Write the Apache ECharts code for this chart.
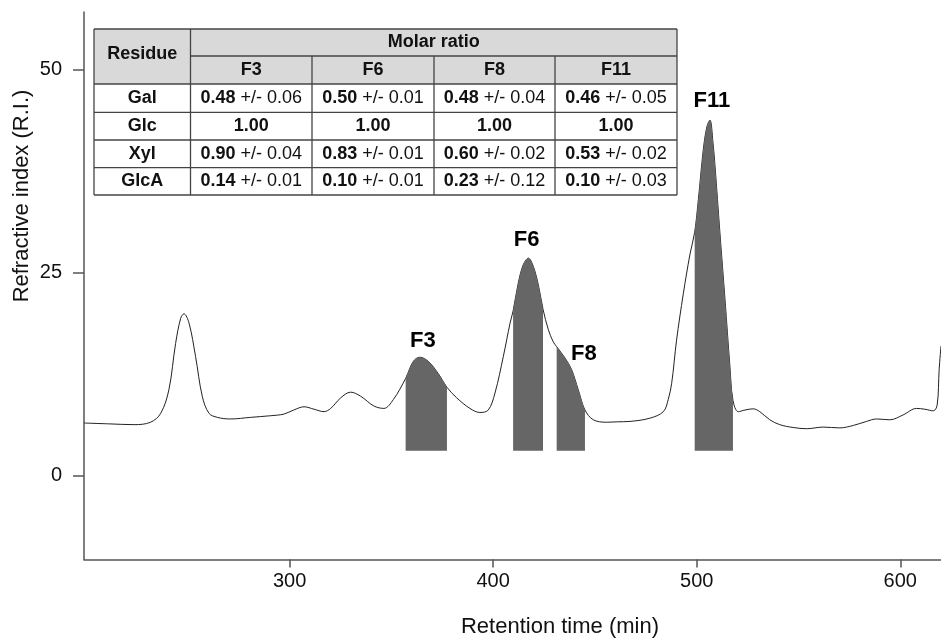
<!DOCTYPE html>
<html>
<head>
<meta charset="utf-8">
<script src="https://cdn.jsdelivr.net/npm/echarts@6/dist/echarts.min.js"></script>
<style>
  html, body { margin: 0; padding: 0; background: #fff; }
  #chart { width: 941px; height: 640px; }
</style>
</head>
<body>
<div id="chart"></div>
<script>
// chromatogram trace
var retention = [199, 211, 223.6, 231.7, 236.7, 240.7, 244.0, 246.5, 248.1, 250.6, 253.8, 257.1, 260.4, 264.5,
  271.0, 280.9, 290.7, 297.2, 302, 307.1, 312.0, 316.9, 320.2, 325.1, 330.0, 334.9, 341.4, 346.3, 351.0,
  357.0, 360.8, 364.0, 368.1, 373.0, 377.3, 382.1, 388.6, 393.5, 397.6, 400.9, 405.0, 408.3,
  409.8, 412.3, 414.8, 417.3, 419.7, 422.2, 424.5, 427.1, 429.5, 431.2, 435.3, 438.5, 441.8, 445.1,
  449.2, 455.7, 461, 467.2, 477.0, 483.6, 486.0, 487.7, 490.1, 493.4, 496.7, 499.0, 500.8, 503.2,
  505.0, 506.5, 508.0, 509.0, 511.4, 513.9, 516.3, 517.8, 520.4, 523.7, 527.7, 531.0, 535.9, 540.8,
  547.4, 554.0, 562.1, 570.3, 576.9, 583.4, 588.3, 594.9, 601.4, 608.0, 612.1, 616.2, 618.1, 619.1, 620];
var signal = [6.5, 6.4, 6.3, 6.6, 7.7, 10.6, 16.3, 19.4, 19.95, 18.8, 14.7, 9.8, 7.7, 7.2,
  7.0, 7.2, 7.4, 7.6, 8.1, 8.5, 8.2, 7.9, 8.3, 9.6, 10.3, 9.8, 8.6, 8.3, 9.4,
  12.0, 14.1, 14.6, 14.1, 12.6, 10.9, 9.6, 8.3, 7.8, 8.1, 10.2, 14.7, 18.8,
  20.3, 23.7, 26.0, 26.8, 25.8, 23.5, 20.5, 18.0, 16.5, 15.9, 14.5, 13.1, 10.6, 8.1,
  6.9, 6.6, 6.65, 6.7, 7.1, 7.9, 9.4, 11.4, 16.7, 22.4, 27.3, 30.0, 34.0, 40.1,
  43.0, 43.8, 41.0, 38.1, 29.9, 21.7, 13.5, 9.3, 7.9, 8.1, 8.25, 7.9, 6.9, 6.3,
  5.95, 5.8, 6.0, 5.9, 6.2, 6.7, 7.0, 6.9, 7.5, 8.3, 8.2, 8.0, 8.7, 13.1, 16.0];

// collected fractions (shaded)
var fractions = ['F3', 'F6', 'F8', 'F11'];
var fracStart = [357.0, 409.8, 431.2, 499.0];
var fracEnd = [377.3, 424.5, 445.1, 517.8];
var fracBase = 3.1;
var labelTime = [365.5, 416.4, 444.6, 507.4];
var labelRI = [16.6, 29.1, 15.0, 46.1];

var xTicks = [300, 400, 500, 600];
var yTicks = [0, 25, 50];

// molar ratio table
var residues = ['Gal', 'Glc', 'Xyl', 'GlcA'];
var ratioMean = [
  ['0.48', '0.50', '0.48', '0.46'],
  ['1.00', '1.00', '1.00', '1.00'],
  ['0.90', '0.83', '0.60', '0.53'],
  ['0.14', '0.10', '0.23', '0.10']
];
var ratioErr = [
  ['0.06', '0.01', '0.04', '0.05'],
  ['', '', '', ''],
  ['0.04', '0.01', '0.02', '0.02'],
  ['0.01', '0.01', '0.12', '0.03']
];

var FONT = '"Liberation Sans", Arial, Helvetica, sans-serif';
var chart = echarts.init(document.getElementById('chart'));

var trace = retention.map(function (t, i) { return [t, signal[i]]; });

var series = [{
  type: 'line',
  data: trace,
  showSymbol: false,
  smooth: 0.35,
  lineStyle: { color: '#222', width: 1 },
  z: 2
}];

fractions.forEach(function (f, k) {
  series.push({
    type: 'line',
    name: f,
    data: trace.filter(function (p) { return p[0] >= fracStart[k] && p[0] <= fracEnd[k]; }),
    showSymbol: false,
    smooth: 0.35,
    lineStyle: { width: 0 },
    areaStyle: { color: '#666', opacity: 1, origin: fracBase },
    z: 3
  });
});

series.push({
  type: 'scatter',
  symbolSize: 0,
  itemStyle: { opacity: 1 },
  data: fractions.map(function (f, k) { return { name: f, value: [labelTime[k], labelRI[k]] }; }),
  label: {
    show: true, position: 'inside', formatter: '{b}', opacity: 1,
    fontFamily: FONT, fontSize: 22, fontWeight: 'bold', color: '#000'
  },
  z: 4
});

// table graphics
var colX = [94, 190.5, 312, 434, 555, 677];
var rowY = [29, 56, 84, 112.3, 140, 167.7, 195];
var gfx = [];
var lineCol = '#444';
gfx.push({ type: 'rect', shape: { x: colX[0], y: rowY[0], width: colX[5] - colX[0], height: rowY[2] - rowY[0] }, style: { fill: '#d9d9d9' } });
gfx.push({ type: 'rect', shape: { x: colX[0], y: rowY[2], width: colX[5] - colX[0], height: rowY[6] - rowY[2] }, style: { fill: '#fff' } });
function hline(y, x1, x2) { gfx.push({ type: 'line', shape: { x1: x1, y1: y, x2: x2, y2: y }, style: { stroke: lineCol, lineWidth: 1.3 } }); }
function vline(x, y1, y2) { gfx.push({ type: 'line', shape: { x1: x, y1: y1, x2: x, y2: y2 }, style: { stroke: lineCol, lineWidth: 1.3 } }); }
hline(rowY[0], colX[0], colX[5]);
hline(rowY[1], colX[1], colX[5]);
for (var r = 2; r < rowY.length; r++) hline(rowY[r], colX[0], colX[5]);
vline(colX[0], rowY[0], rowY[6]);
vline(colX[1], rowY[0], rowY[6]);
vline(colX[5], rowY[0], rowY[6]);
for (var c = 2; c < 5; c++) vline(colX[c], rowY[1], rowY[6]);

var TS = 18;
function txt(s, x, y, bold, rich) {
  var st = { text: s, x: x, y: y, align: 'center', verticalAlign: 'middle', fill: '#111',
    fontFamily: FONT, fontSize: TS, fontWeight: bold ? 'bold' : 'normal' };
  if (rich) st.rich = rich;
  gfx.push({ type: 'text', style: st, z: 10 });
}
txt('Residue', (colX[0] + colX[1]) / 2, (rowY[0] + rowY[2]) / 2 - 2, true);
txt('Molar ratio', (colX[1] + colX[5]) / 2, (rowY[0] + rowY[1]) / 2, true);
fractions.forEach(function (f, k) {
  txt(f, (colX[k + 1] + colX[k + 2]) / 2, (rowY[1] + rowY[2]) / 2, true);
});
var richVal = { b: { fontWeight: 'bold', fontFamily: FONT, fontSize: TS, fill: '#111' },
  n: { fontWeight: 'normal', fontFamily: FONT, fontSize: TS, fill: '#111' } };
residues.forEach(function (res, i) {
  var cy = (rowY[i + 2] + rowY[i + 3]) / 2;
  txt(res, (colX[0] + colX[1]) / 2, cy, true);
  for (var k = 0; k < 4; k++) {
    var s = '{b|' + ratioMean[i][k] + '}' + (ratioErr[i][k] ? '{n| +/- ' + ratioErr[i][k] + '}' : '');
    txt(s, (colX[k + 1] + colX[k + 2]) / 2, cy, false, richVal);
  }
});

// axis titles
gfx.push({ type: 'text', x: 560, y: 627, style: { text: 'Retention time (min)', x: 0, y: 0, align: 'center', verticalAlign: 'middle',
  fontFamily: FONT, fontSize: 22, fill: '#111' } });
gfx.push({ type: 'text', x: 22, y: 196, rotation: Math.PI / 2, style: { text: 'Refractive index (R.I.)', x: 0, y: 0, align: 'center', verticalAlign: 'middle',
  fontFamily: FONT, fontSize: 22, fill: '#111' } });

var option = {
  animation: false,
  backgroundColor: '#fff',
  grid: { left: 84, right: 0, top: 12, bottom: 80.5, outerBoundsMode: 'none' },
  xAxis: {
    type: 'value', min: 199, max: 620,
    splitLine: { show: false },
    axisLine: { show: true, onZero: false, lineStyle: { color: '#555', width: 1.5 } },
    axisTick: { show: true, length: 8, customValues: xTicks, lineStyle: { color: '#555', width: 1.5 } },
    axisLabel: { customValues: xTicks, margin: 12, fontFamily: FONT, fontSize: 20, color: '#111' }
  },
  yAxis: {
    type: 'value', min: -10.3, max: 57.1,
    splitLine: { show: false },
    axisLine: { show: true, onZero: false, lineStyle: { color: '#555', width: 1.5 } },
    axisTick: { show: true, length: 11, customValues: yTicks, lineStyle: { color: '#555', width: 1.5 } },
    axisLabel: { customValues: yTicks, margin: 22, fontFamily: FONT, fontSize: 20, color: '#111' }
  },
  series: series,
  graphic: gfx
};
chart.setOption(option);
</script>
</body>
</html>
